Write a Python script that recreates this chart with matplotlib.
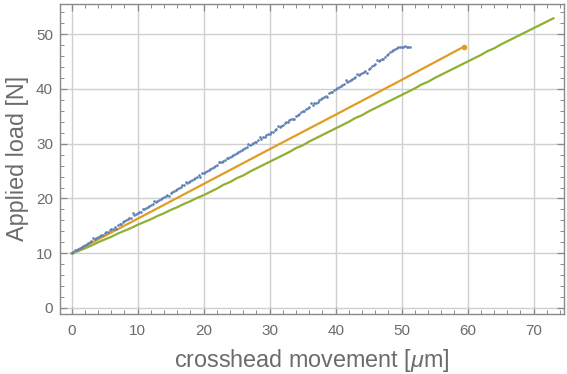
import numpy as np
import matplotlib
matplotlib.use("Agg")
import matplotlib.pyplot as plt
from matplotlib.ticker import MultipleLocator

# Specimen A: sampled load readings every 0.25 µm up to 49 µm, then the plateau
blue_x = list(np.arange(0.0, 49.01, 0.25)) + [49.25, 49.5, 49.75, 50.0, 50.25, 50.5,
                                               50.75, 51.0, 51.2]
blue_y = [
    10.0, 10.3, 10.5, 10.5,
    10.8, 11.0, 11.1, 11.4,
    11.5, 11.6, 11.9, 12.1,
    12.2, 12.7, 12.6, 12.7,
    12.9, 13.1, 13.3, 13.4,
    13.7, 13.8, 13.9, 14.2,
    14.4, 14.5, 14.8, 14.5,
    15.1, 15.4, 15.4, 15.7,
    15.9, 16.0, 16.3, 16.5,
    16.5, 17.3, 17.0, 17.1,
    17.4, 17.5, 17.6, 18.0,
    18.1, 18.2, 18.5, 18.6,
    18.8, 19.0, 19.6, 19.3,
    19.6, 19.8, 19.9, 20.1,
    20.3, 20.4, 20.7, 20.5,
    21.0, 21.2, 21.4, 21.5,
    21.8, 22.0, 22.1, 22.4,
    22.4, 23.0, 22.9, 23.0,
    23.2, 23.4, 23.6, 23.7,
    24.0, 24.2, 24.0, 24.6,
    24.6, 24.8, 25.1, 25.2,
    25.4, 25.6, 25.7, 26.0,
    26.1, 26.7, 26.6, 26.7,
    26.8, 27.1, 27.3, 27.4,
    27.6, 27.7, 28.0, 28.2,
    28.3, 28.4, 28.7, 28.9,
    29.0, 29.2, 29.4, 29.9,
    29.8, 29.9, 30.1, 30.3,
    30.4, 30.6, 31.2, 30.9,
    31.2, 31.3, 31.5, 31.7,
    31.8, 32.1, 32.2, 32.5,
    32.6, 33.3, 33.1, 33.3,
    33.4, 33.7, 33.9, 34.0,
    34.3, 34.5, 34.6, 34.5,
    35.1, 35.2, 35.5, 35.7,
    35.9, 36.0, 36.3, 36.5,
    36.7, 37.4, 37.0, 37.4,
    37.5, 37.7, 38.0, 38.1,
    38.3, 38.6, 38.7, 38.5,
    39.2, 39.4, 39.5, 39.8,
    40.0, 40.1, 40.4, 40.5,
    40.7, 40.9, 41.6, 41.2,
    41.5, 41.6, 41.8, 42.0,
    42.2, 42.8, 42.6, 42.7,
    42.9, 43.1, 43.2, 43.0,
    43.6, 43.9, 44.1, 44.3,
    44.6, 45.2, 45.1, 45.2,
    45.5, 45.4, 45.9, 46.2,
    46.4, 46.7, 46.9, 47.1,
    47.3,
    47.5, 47.6, 47.7, 47.7, 47.7, 47.8, 47.7, 47.7, 47.7,
]

# Specimen B: linear response
orange_x = [0.0, 10.0, 20.0, 30.0, 40.0, 50.0, 59.4]
orange_y = [10.0, 16.3, 22.65, 29.0, 35.3, 41.65, 47.7]

# Specimen C: stepped response
green_x = list(range(0, 74))
green_y = [10.0, 10.4, 10.9, 11.4, 12.0, 12.5, 13.0, 13.6, 14.1, 14.6, 15.2, 15.7, 16.2,
           16.8, 17.3, 17.9, 18.4, 19.0, 19.5, 20.1, 20.6, 21.2, 21.8, 22.5, 23.0, 23.7,
           24.2, 24.9, 25.5, 26.1, 26.7, 27.3, 27.9, 28.5, 29.2, 29.7, 30.4, 31.0, 31.6,
           32.2, 32.8, 33.4, 34.0, 34.7, 35.2, 35.9, 36.5, 37.1, 37.7, 38.3, 38.9, 39.5,
           40.1, 40.8, 41.3, 42.0, 42.6, 43.2, 43.8, 44.4, 45.0, 45.6, 46.2, 46.9, 47.4,
           48.1, 48.7, 49.3, 49.9, 50.5, 51.1, 51.7, 52.3, 52.9]

x_ticks = [0, 10, 20, 30, 40, 50, 60, 70]
y_ticks = [0, 10, 20, 30, 40, 50]

BLUE = "#5E81B5"
ORANGE = "#E19C24"
GREEN = "#8FB032"
FRAME = "#8a8a8a"
TEXT = "#6b6b6b"

plt.rcParams["font.family"] = ["Liberation Sans", "DejaVu Sans"]
plt.rcParams["mathtext.fontset"] = "custom"
plt.rcParams["mathtext.it"] = "Liberation Sans:italic"
plt.rcParams["mathtext.rm"] = "Liberation Sans"

fig = plt.figure(figsize=(5.67, 3.74), dpi=100)
ax = fig.add_axes([0.1058, 0.1604, 0.8889, 0.8302])

ax.grid(True, which="major", color="#d0d0d0", linewidth=1.0, zorder=0)

ax.plot(green_x, green_y, color=GREEN, lw=1.6, zorder=3)
ax.plot(orange_x, orange_y, color=ORANGE, lw=1.6, zorder=4)
ax.plot(orange_x[-1:], orange_y[-1:], "o", color=ORANGE, ms=3, zorder=4)
ax.plot(blue_x, blue_y, "o", color=BLUE, ms=1.9, mew=0, zorder=5)

ax.set_xlim(-1.77, 74.6)
ax.set_ylim(-1.1, 55.6)
ax.set_xticks(x_ticks)
ax.set_yticks(y_ticks)
ax.xaxis.set_minor_locator(MultipleLocator(2))
ax.yaxis.set_minor_locator(MultipleLocator(2))

for s in ax.spines.values():
    s.set_color(FRAME)
    s.set_linewidth(1.0)

ax.tick_params(which="both", direction="in", top=True, right=True, color=FRAME,
               labelcolor=TEXT, labelsize=11)
ax.tick_params(which="major", length=5, width=0.9)
ax.tick_params(which="minor", length=3, width=0.7)
ax.tick_params(axis="x", which="major", pad=7)
ax.tick_params(axis="y", which="major", pad=5)

ax.set_xlabel(r"crosshead movement [$\mu$m]", fontsize=16.8, color=TEXT, labelpad=7)
ax.set_ylabel("Applied load [N]", fontsize=16.8, color=TEXT, labelpad=5)

fig.savefig("out.png", dpi=100)
